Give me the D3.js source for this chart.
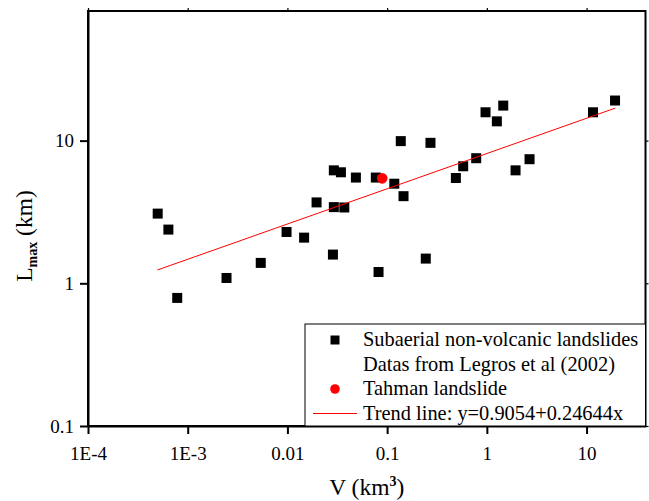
<!DOCTYPE html>
<html>
<head>
<meta charset="utf-8">
<script src="https://cdn.jsdelivr.net/npm/d3@7"></script>
<style>
  html, body { margin: 0; padding: 0; background: #fff; }
  svg { display: block; }
</style>
</head>
<body>
<svg id="chart" width="649" height="501"></svg>
<script>
// ---- data ----
const volumes = [5e-4, 6.4e-4, 7.85e-4, 2.45e-3, 5.4e-3, 0.0098, 0.0147, 0.0196, 0.0286, 0.0292,
                 0.0344, 0.0292, 0.0372, 0.0486, 0.077, 0.082, 0.118, 0.146, 0.137, 0.272,
                 0.244, 0.489, 0.579, 0.782, 0.97, 1.46, 1.26, 1.94, 2.68, 11.6, 19.3];
const lengths = [3.08, 2.38, 0.79, 1.09, 1.39, 2.29, 2.09, 3.69, 1.59, 6.19,
                 6.0, 3.42, 3.40, 5.51, 5.51, 1.2, 4.99, 4.08, 9.92, 9.65,
                 1.49, 5.47, 6.61, 7.53, 15.8, 17.6, 13.65, 6.19, 7.41, 15.8, 19.1];
const tahmanV = [0.0892];
const tahmanL = [5.44];
const trendV = [4.97e-4, 19.4];
const trendL = [1.24, 16.9];
const xTickValues = [1e-4, 1e-3, 0.01, 0.1, 1, 10];
const xTickLabels = ["1E-4", "1E-3", "0.01", "0.1", "1", "10"];
const yTickValues = [0.1, 1, 10];
const yTickLabels = ["0.1", "1", "10"];
const legendLabels = ["Subaerial non-volcanic landslides", "Datas from Legros et al (2002)",
                      "Tahman landslide", "Trend line: y=0.9054+0.24644x"];

const FONT = "'Liberation Serif'";

// ---- layout ----
const svg = d3.select("#chart");
const W = 649, H = 501;
const m = { left: 88, top: 11, right: 3.5, bottom: 75 };
const x = d3.scaleLog().domain([1e-4, 39]).range([m.left, W - m.right]);
const y = d3.scaleLog().domain([0.1, 81]).range([H - m.bottom, m.top]);
const x0 = x.range()[0], x1 = x.range()[1], y0 = y.range()[0], y1 = y.range()[1];

// frame
svg.append("rect").attr("x", x0).attr("y", y1).attr("width", x1 - x0).attr("height", y0 - y1)
  .attr("fill", "none").attr("stroke", "#000").attr("stroke-width", 2);

// bottom axis
const xAxis = d3.axisBottom(x).tickValues(xTickValues)
  .tickFormat((d, i) => xTickLabels[i]).tickSize(8).tickSizeOuter(0).tickPadding(8);
const gx = svg.append("g").attr("transform", `translate(0,${y0})`).call(xAxis);
gx.select(".domain").attr("stroke-width", 2);
gx.selectAll(".tick line").attr("stroke-width", 2);
gx.selectAll(".tick text").style("font-family", FONT).style("font-size", "19px").attr("fill", "#000").attr("dy", "0.95em");

// left axis
const yAxis = d3.axisLeft(y).tickValues(yTickValues)
  .tickFormat((d, i) => yTickLabels[i]).tickSize(8).tickSizeOuter(0).tickPadding(6);
const gy = svg.append("g").attr("transform", `translate(${x0},0)`).call(yAxis);
gy.select(".domain").attr("stroke-width", 2);
gy.selectAll(".tick line").attr("stroke-width", 2);
gy.selectAll(".tick text").style("font-family", FONT).style("font-size", "19px").attr("fill", "#000");

// mirror ticks top and right (small)
const gt = svg.append("g").attr("transform", `translate(0,${y1})`)
  .call(d3.axisTop(x).tickValues(xTickValues).tickFormat("").tickSize(3).tickSizeOuter(0));
gt.select(".domain").remove();
gt.selectAll(".tick line").attr("stroke-width", 1.2);
const gr = svg.append("g").attr("transform", `translate(${x1},0)`)
  .call(d3.axisRight(y).tickValues(yTickValues).tickFormat("").tickSize(3).tickSizeOuter(0));
gr.select(".domain").remove();
gr.selectAll(".tick line").attr("stroke-width", 1.2);

// data squares
const pts = volumes.map((v, i) => ({ v, l: lengths[i] }));
const sq = 10;
svg.append("g").selectAll("rect").data(pts).join("rect")
  .attr("x", d => x(d.v) - sq / 2).attr("y", d => y(d.l) - sq / 2)
  .attr("width", sq).attr("height", sq).attr("fill", "#000");

// trend line
const trend = trendV.map((v, i) => ({ v, l: trendL[i] }));
svg.append("path").datum(trend)
  .attr("d", d3.line().x(d => x(d.v)).y(d => y(d.l)))
  .attr("fill", "none").attr("stroke", "#ff0000").attr("stroke-width", 1);

// Tahman point
svg.append("g").selectAll("circle").data(tahmanV.map((v, i) => ({ v, l: tahmanL[i] }))).join("circle")
  .attr("cx", d => x(d.v)).attr("cy", d => y(d.l)).attr("r", 5.3).attr("fill", "#ff0000");

// legend
const lg = svg.append("g");
const lgLeft = 305, lgTop = 324;
lg.append("rect").attr("x", lgLeft).attr("y", lgTop).attr("width", x1 - lgLeft).attr("height", y0 - lgTop)
  .attr("fill", "#fff").attr("stroke", "#000").attr("stroke-width", 1);
const rowBase = [346, 370.5, 395, 419.5];
lg.selectAll("text.lab").data(legendLabels).join("text").attr("class", "lab")
  .attr("x", 363).attr("y", (d, i) => rowBase[i])
  .style("font-family", FONT).style("font-size", "20.4px").text(d => d);
lg.append("rect").attr("x", 335 - 4.5).attr("y", 340 - 4.5).attr("width", 9).attr("height", 9).attr("fill", "#000");
lg.append("circle").attr("cx", 335).attr("cy", 389).attr("r", 4.8).attr("fill", "#ff0000");
lg.append("line").attr("x1", 313).attr("x2", 357).attr("y1", 413.5).attr("y2", 413.5)
  .attr("stroke", "#ff0000").attr("stroke-width", 1);

// axis titles
const xt = svg.append("text").attr("x", (x0 + x1) / 2).attr("y", 495).attr("text-anchor", "middle")
  .style("font-family", FONT).style("font-size", "23.5px");
xt.append("tspan").text("V (km");
xt.append("tspan").style("font-size", "14px").style("font-weight", "bold").attr("dy", -9).text("3");
xt.append("tspan").attr("dy", 9).text(")");

const yt = svg.append("text").attr("transform", `translate(32,236) rotate(-90)`).attr("text-anchor", "middle")
  .style("font-family", FONT).style("font-size", "23.5px");
yt.append("tspan").text("L");
yt.append("tspan").style("font-size", "14px").style("font-weight", "bold").attr("dy", 5).text("max");
yt.append("tspan").attr("dy", -5).text(" (km)");
</script>
</body>
</html>
